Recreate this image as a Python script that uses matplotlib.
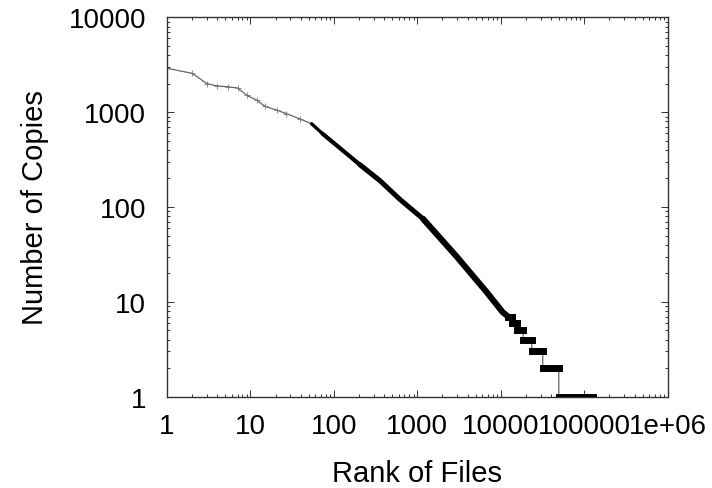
import numpy as np
import matplotlib.pyplot as plt
from matplotlib.ticker import LogLocator, FixedLocator, NullFormatter

# rank / copies
rank = [1, 2, 3, 4, 5.4, 7, 9, 12, 15, 21, 27, 39, 54, 73, 108, 204, 355,
        620, 1170, 2960, 6800, 10500, 12200]
copies = [2900, 2570, 2000, 1890, 1850, 1800, 1510, 1330, 1150, 1045, 965,
          850, 755, 593, 446, 280, 190, 120, 75, 30, 12.6, 7.8, 7]

# integer plateaus at the tail
step_copies = [7, 6, 5, 4, 3, 2, 1]
step_start = [12200, 13500, 15500, 18500, 23500, 31800, 49500]
step_end = [13500, 15500, 18500, 23500, 31800, 49500, 126000]

xticks = [1, 10, 100, 1000, 10000, 100000, 1000000]
xlabels = ['1', '10', '100', '1000', '10000', '100000', '1e+06']
yticks = [1, 10, 100, 1000, 10000]
ylabels = ['1', '10', '100', '1000', '10000']

plt.rcParams['font.family'] = 'Liberation Sans'

fig = plt.figure(figsize=(7.12, 4.89), dpi=100)
ax = fig.add_axes([0.2346, 0.1867, 0.7032, 0.7758])

# thin connecting line over the whole data
xs, ys = list(rank), list(copies)
for c, s, e in zip(step_copies, step_start, step_end):
    xs += [s, e]
    ys += [c, c]
ax.plot(xs, ys, color='#666666', lw=0.9)
ax.plot(rank[:12], copies[:12], ls='none', marker='+', ms=4, mew=0.6, color='#777777')

# dense part where the points merge into a band that thickens with rank
r = np.array(rank)
c = np.array(copies)
for lo, hi, w in [(50, 110, 2.4), (70, 400, 3.0), (200, 1200, 3.6), (1100, 13000, 4.4)]:
    m = (r >= lo) & (r <= hi)
    ax.plot(r[m], c[m], color='black', lw=w, solid_capstyle='round', solid_joinstyle='round')
for cc, s, e in zip(step_copies, step_start, step_end):
    ax.plot([s, e], [cc, cc], color='black', lw=5, solid_capstyle='projecting')

ax.set_xscale('log')
ax.set_yscale('log')
ax.set_xlim(1, 1e6)
ax.set_ylim(1, 1e4)

ax.xaxis.set_major_locator(FixedLocator(xticks))
ax.set_xticklabels(xlabels)
ax.yaxis.set_major_locator(FixedLocator(yticks))
ax.set_yticklabels(ylabels)
ax.xaxis.set_minor_locator(LogLocator(base=10, subs=np.arange(2, 10)))
ax.yaxis.set_minor_locator(LogLocator(base=10, subs=np.arange(2, 10)))
ax.xaxis.set_minor_formatter(NullFormatter())
ax.yaxis.set_minor_formatter(NullFormatter())

ax.tick_params(which='both', direction='in', top=True, right=True, width=0.7, color='#333333')
ax.tick_params(which='major', length=5, labelsize=20)
ax.tick_params(which='minor', length=2.5)
ax.tick_params(axis='x', which='major', pad=12)
ax.tick_params(axis='y', which='major', pad=15)

for sp in ax.spines.values():
    sp.set_linewidth(1.0)
    sp.set_color('#333333')

ax.set_xlabel('Rank of Files', fontsize=21, labelpad=14)
ax.set_ylabel('Number of Copies', fontsize=21, labelpad=14)

fig.savefig('out.png', dpi=100)
